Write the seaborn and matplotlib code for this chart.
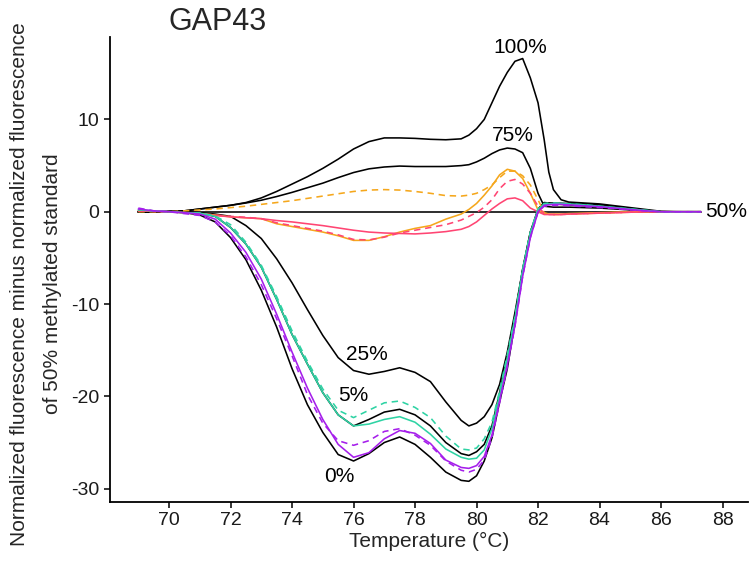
import pandas as pd
import seaborn as sns
import matplotlib.pyplot as plt

# temperature grid (°C) shared by every difference curve
temp = [69.0, 69.5, 70.0, 70.5, 71.0, 71.5, 72.0, 72.5, 73.0, 73.5, 74.0, 74.5,
        75.0, 75.5, 76.0, 76.5, 77.0, 77.5, 78.0, 78.5, 79.0, 79.5,
        79.75, 80.0, 80.25, 80.5, 80.75, 81.0, 81.25, 81.5, 81.75, 82.0, 82.2, 82.35,
        82.5, 82.75, 83.0, 83.5, 84.0, 84.5, 85.0, 85.5, 86.0, 86.5, 87.3]

# difference from the 50% methylated standard
m100 = [0, 0, 0.05, 0.1, 0.3, 0.5, 0.7, 1.0, 1.5, 2.2, 3.0, 3.8, 4.7, 5.7, 6.8, 7.6,
        8.0, 8.0, 7.95, 7.85, 7.8, 7.9,
        8.3, 9.0, 10.0, 11.8, 13.6, 15.1, 16.3, 16.6, 14.5, 11.8, 7.8, 4.3, 2.4, 1.3,
        1.05, 0.95, 0.85, 0.65, 0.45, 0.25, 0.05, 0, 0]
m75 = [0, 0, 0.05, 0.1, 0.3, 0.5, 0.7, 0.95, 1.25, 1.65, 2.1, 2.6, 3.1, 3.7, 4.25, 4.65,
       4.85, 4.95, 4.9, 4.9, 4.9, 5.0,
       5.1, 5.4, 5.8, 6.3, 6.7, 6.9, 6.8, 6.4, 4.7, 2.0, 0.6, 0.55, 0.5, 0.5,
       0.5, 0.45, 0.4, 0.3, 0.2, 0.1, 0, 0, 0]
m50 = [0] * 45
orange_dash = [0, 0, 0, 0.1, 0.2, 0.3, 0.45, 0.6, 0.8, 1.0, 1.2, 1.45, 1.7, 1.95, 2.2, 2.35,
               2.4, 2.35, 2.2, 2.0, 1.75, 1.7,
               1.8, 2.0, 2.4, 2.9, 3.7, 4.4, 4.4, 3.9, 2.9, 1.3, -0.1, -0.25, -0.3, -0.3,
               -0.25, -0.2, -0.15, -0.1, -0.05, 0, 0, 0, 0]
orange_solid = [0.1, 0.05, 0, -0.1, -0.2, -0.35, -0.55, -0.65, -0.75, -1.3, -1.6, -1.9,
                -2.2, -2.6, -3.1, -3.1, -2.7, -2.2, -1.8, -1.5, -0.8, -0.25,
                0.25, 0.9, 1.8, 2.8, 4.0, 4.6, 4.4, 3.6, 2.0, 0.2, -0.2, -0.25, -0.25, -0.25,
                -0.2, -0.15, -0.1, -0.05, 0, 0, 0, 0, 0]
pink_dash = [0.1, 0.05, 0, -0.1, -0.2, -0.35, -0.5, -0.6, -0.75, -1.2, -1.5, -1.8, -2.1,
             -2.5, -3.0, -3.05, -2.75, -2.3, -2.0, -1.7, -1.4, -0.9,
             -0.5, -0.1, 0.5, 1.3, 2.5, 3.3, 3.5, 3.0, 2.0, 0.6, -0.2, -0.3, -0.3, -0.3,
             -0.25, -0.2, -0.15, -0.1, -0.05, 0, 0, 0, 0]
pink_solid = [0.1, 0.05, 0, -0.1, -0.25, -0.4, -0.55, -0.65, -0.75, -0.95, -1.1, -1.3, -1.5,
              -1.75, -2.0, -2.2, -2.3, -2.35, -2.4, -2.3, -2.15, -1.9,
              -1.6, -1.1, -0.4, 0.3, 0.9, 1.4, 1.5, 1.2, 0.4, 0.0, -0.3, -0.3, -0.3, -0.3,
              -0.25, -0.2, -0.15, -0.1, -0.05, 0, 0, 0, 0]
m25 = [0, 0, 0, 0, -0.1, -0.25, -0.5, -1.5, -2.9, -5.1, -7.7, -10.6, -13.4, -15.8, -17.2,
       -17.6, -17.3, -16.9, -17.4, -18.4, -20.6, -22.6,
       -23.2, -22.9, -22.2, -20.9, -18.7, -15.2, -10.9, -6.3, -2.2, 0.0, 0.9, 0.9, 0.85, 0.8,
       0.75, 0.65, 0.55, 0.4, 0.25, 0.1, 0.0, 0, 0]
m5 = [0, 0, 0, -0.05, -0.15, -0.5, -1.7, -3.5, -6.0, -9.5, -13.3, -16.5, -19.6, -22.0, -23.2,
      -22.5, -21.7, -21.4, -22.0, -23.2, -25.0, -26.2,
      -26.4, -26.0, -25.2, -23.2, -19.6, -15.6, -11.3, -6.2, -2.2, 0.3, 1.0, 0.95, 0.95, 0.9,
      0.9, 0.85, 0.75, 0.55, 0.35, 0.15, 0, 0, 0]
teal_solid = [0.2, 0.1, 0, -0.1, -0.15, -0.5, -1.7, -3.5, -6.0, -9.5, -13.3, -16.5, -19.6,
              -22.0, -23.2, -23.0, -22.5, -22.2, -22.8, -24.1, -25.7, -26.6,
              -26.8, -26.7, -25.8, -23.5, -19.8, -15.8, -11.5, -6.3, -2.3, 0.3, 0.8, 0.85,
              0.9, 0.9, 0.85, 0.75, 0.6, 0.45, 0.3, 0.15, 0, 0, 0]
teal_dash = [0.2, 0.1, 0, -0.1, -0.15, -0.45, -1.4, -3.3, -5.8, -9.2, -12.9, -16.2, -19.2,
             -21.5, -22.3, -21.5, -20.7, -20.5, -21.2, -22.3, -24.3, -25.7,
             -25.8, -25.6, -24.6, -22.8, -19.4, -15.5, -11.3, -6.2, -2.2, 0.3, 0.9, 0.95,
             0.95, 0.9, 0.85, 0.75, 0.6, 0.45, 0.3, 0.15, 0, 0, 0]
purple_solid = [0.3, 0.1, 0, -0.1, -0.25, -0.8, -2.3, -4.4, -7.3, -11.1, -15.2, -19.1, -22.5,
                -25.2, -26.6, -26.1, -24.6, -23.7, -24.0, -25.1, -26.9, -27.7,
                -27.8, -27.5, -26.5, -24.2, -20.5, -16.6, -12.3, -7.0, -2.8, 0.0, 0.7, 0.75,
                0.8, 0.8, 0.75, 0.65, 0.55, 0.4, 0.25, 0.1, 0, 0, 0]
purple_dash = [0.4, 0.1, 0, -0.2, -0.4, -1.1, -2.6, -4.9, -7.9, -11.6, -15.6, -19.8, -22.9,
               -24.8, -25.3, -24.8, -23.8, -23.5, -24.2, -25.3, -27.0, -28.0,
               -28.2, -27.9, -26.9, -24.5, -20.7, -16.8, -12.4, -7.0, -2.8, 0.0, 0.6, 0.65,
               0.7, 0.7, 0.65, 0.55, 0.45, 0.35, 0.2, 0.1, 0, 0, 0]
m0 = [0, 0, 0, -0.1, -0.35, -1.1, -2.8, -5.2, -8.5, -12.5, -17.0, -20.9, -23.9, -26.3, -27.0,
      -26.2, -25.0, -24.4, -25.2, -26.6, -28.2, -29.1,
      -29.2, -28.6, -27.0, -24.5, -20.6, -17.0, -12.0, -6.5, -2.6, 0.2, 0.9, 0.9, 0.9, 0.9,
      0.85, 0.8, 0.7, 0.5, 0.3, 0.1, 0, 0, 0]

curves = {
    "m50": m50, "m100": m100, "m75": m75, "m25": m25, "m5": m5, "m0": m0,
    "orange_dash": orange_dash, "orange_solid": orange_solid,
    "pink_dash": pink_dash, "pink_solid": pink_solid,
    "teal_dash": teal_dash, "teal_solid": teal_solid,
    "purple_dash": purple_dash, "purple_solid": purple_solid,
}
colors = {"m50": "black", "m100": "black", "m75": "black", "m25": "black", "m5": "black",
          "m0": "black", "orange_dash": "#F5A71C", "orange_solid": "#F5A71C",
          "pink_dash": "#FF4573", "pink_solid": "#FF4573", "teal_dash": "#2ED3A4",
          "teal_solid": "#2ED3A4", "purple_dash": "#A51EEB", "purple_solid": "#A51EEB"}
dashes = {k: ((4, 3) if k.endswith("_dash") else "") for k in curves}

# labels next to the standards
lab_text = ["100%", "75%", "50%", "25%", "5%", "0%"]
lab_x = [81.41, 81.19, 87.43, 76.44, 76.0, 75.53]
lab_y = [17.84, 8.3, 0.0, -15.47, -19.9, -28.7]

rows = []
for name, vals in curves.items():
    assert len(vals) == len(temp), name
    for t, v in zip(temp, vals):
        rows.append((name, t, v))
df = pd.DataFrame(rows, columns=["curve", "temp", "diff"])

sns.set_style("ticks")
plt.rcParams["font.family"] = ["Liberation Sans", "DejaVu Sans"]

fig = plt.figure(figsize=(7.5, 5.61), dpi=100)
ax = fig.add_axes([0.1467, 0.1057, 0.8507, 0.8283])

sns.lineplot(data=df, x="temp", y="diff", hue="curve", style="curve",
             hue_order=list(curves), style_order=list(curves),
             palette=colors, dashes=dashes, estimator=None, sort=False,
             legend=False, linewidth=1.15, ax=ax)

for t, x, y in zip(lab_text, lab_x, lab_y):
    ha = "left" if t == "50%" else "center"
    ax.text(x, y, t, ha=ha, va="center", fontsize=15, color="black", clip_on=False)

ax.set_xlim(68.08, 88.83)
ax.set_ylim(-31.41, 18.93)
ax.set_xticks(range(70, 89, 2))
ax.set_yticks([-30, -20, -10, 0, 10])
ax.set_yticklabels(["-30", "-20", "-10", "0", "10"])
ax.tick_params(labelsize=14, length=4, width=1.1, colors="black", labelcolor="#1a1a1a")
for s in ["left", "bottom"]:
    ax.spines[s].set_linewidth(1.3)
    ax.spines[s].set_color("black")
sns.despine(ax=ax)

ax.set_xlabel("Temperature (°C)", fontsize=15, labelpad=2)
ax.set_ylabel("")
fig.text(0.048, 0.494, "Normalized fluorescence minus normalized fluorescence\n"
         "of 50% methylated standard", rotation=90, ha="center", va="center",
         fontsize=15, linespacing=1.9)
fig.text(0.224, 0.961, "GAP43", ha="left", va="center", fontsize=22)

fig.savefig("out.png", dpi=100)
